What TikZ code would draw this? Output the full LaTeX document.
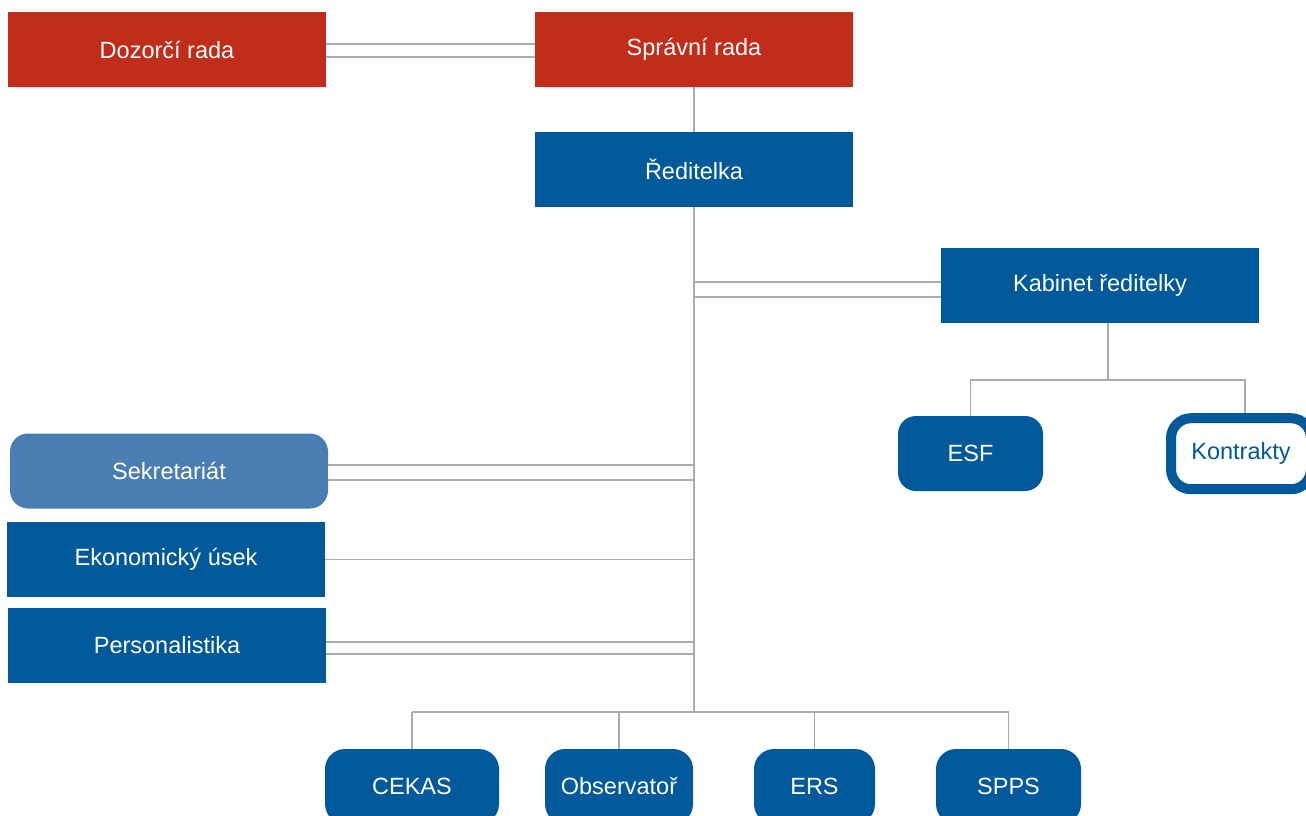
\documentclass[tikz,border=0pt]{standalone}
\usepackage{fontspec}
\setmainfont{Liberation Sans}
\usetikzlibrary{calc}
\definecolor{boardred}{HTML}{C12C1B}
\definecolor{unitblue}{HTML}{00599B}
\definecolor{softblue}{HTML}{4A7DB4}
\definecolor{linegray}{HTML}{ABABAB}
\tikzset{
  board/.style={fill=boardred, text=white, minimum width=318pt,
    minimum height=75pt, inner sep=0pt, font=\fontsize{23.5}{27}\selectfont},
  unit/.style={fill=unitblue, text=white, minimum width=318pt,
    minimum height=75pt, inner sep=0pt, font=\fontsize{23.5}{27}\selectfont},
  office/.style={unit, rounded corners=18pt},
  softoffice/.style={office, fill=softblue},
  dept/.style={unit, rounded corners=20pt, minimum width=#1},
  openbox/.style={draw=unitblue, line width=10pt, fill=white, text=unitblue,
    rounded corners=20pt, minimum width=140pt, minimum height=71pt,
    inner sep=0pt, font=\fontsize{23.5}{27}\selectfont},
  link/.style={draw=linegray, line width=1.5pt},
  dlink/.style={link, double=white, double distance=#1}
}

\begin{document}
\begin{tikzpicture}[x=1pt,y=-1pt]
\useasboundingbox (0,0) rectangle (1306,816);

% Boards
\node[board] (dozor) at (167,49.5) {Dozorčí rada};
\node[board] (sprava) at (694,49.5) {Správní rada};

% Management
\node[unit] (reditelka) at (694,169.5) {Ředitelka};
\node[unit] (kabinet) at (1100,285.5) {Kabinet ředitelky};
\node[office, minimum width=145pt] (esf) at (970.5,453.5) {ESF};
\node[openbox] (kontrakty) at (1241,453.7) {Kontrakty};

% Staff units
\node[softoffice] (sekretariat) at (169,471) {Sekretariát};
\node[unit] (ekonom) at (166,559.5) {Ekonomický úsek};
\node[unit] (personal) at (167,645.5) {Personalistika};

% Departments
\node[dept=174pt] (cekas) at (412,786.5) {CEKAS};
\node[dept=148pt] (observ) at (619,786.5) {Observatoř};
\node[dept=121pt] (ers) at (814.5,786.5) {ERS};
\node[dept=145pt] (spps) at (1008.5,786.5) {SPPS};

% Connectors
\coordinate (trunkend) at (694,712);
\coordinate (kbus) at (1108,380);
\coordinate (kjoin) at ($(kabinet.west)+(0,4)$);
\coordinate (sjoin) at ($(sekretariat.east)+(0,1.5)$);
\coordinate (pjoin) at ($(personal.east)+(0,2.5)$);
\coordinate (djoin) at ($(dozor.east)+(0,1)$);
\draw[dlink=11.5pt] (djoin) -- (djoin -| sprava.west);
\draw[link] (sprava.south) -- (reditelka.north);
\draw[dlink=13.5pt] (reditelka.south |- kjoin) -- (kjoin);
\draw[dlink=13.5pt] (sjoin) -- (reditelka.south |- sjoin);
\draw[link] (ekonom.east) -- (reditelka.south |- ekonom.east);
\draw[dlink=10.5pt] (pjoin) -- (reditelka.south |- pjoin);
\draw[link] (reditelka.south) -- (trunkend);

% Cabinet branches
\draw[link] (kabinet.south -| kbus) -- (kbus);
\draw[link] (esf.north) |- (kbus) -| ([xshift=4pt]kontrakty.north);

% Department bus
\draw[link] (cekas.north |- trunkend) -- (spps.north |- trunkend);
\foreach \d in {cekas,observ,ers,spps}{\draw[link] (\d.north |- trunkend) -- (\d.north);}

\end{tikzpicture}
\end{document}
